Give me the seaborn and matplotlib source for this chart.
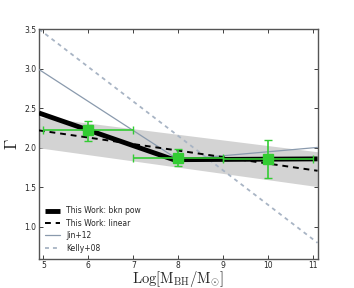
import numpy as np
import pandas as pd
import seaborn as sns
import matplotlib
matplotlib.use("Agg")
import matplotlib.pyplot as plt

# model lines (x in log M_BH)
bkn_x = [4.9, 7.9, 11.1]
bkn_y = [2.44, 1.85, 1.86]
lin_x = [4.9, 11.1]
lin_y = [2.22, 1.71]
jin_x = [4.9, 8.0, 11.1]
jin_y = [2.99, 1.85, 2.005]
kelly_x = [4.9, 11.1]
kelly_y = [3.50, 0.80]

# shaded uncertainty band of the linear fit
band_x = [4.9, 11.1]
band_lo = [2.00, 1.51]
band_hi = [2.39, 1.95]

# binned data points
pt_x = [6, 8, 10]
pt_y = [2.22, 1.875, 1.86]
pt_xerr = [1, 1, 1]
pt_yerr_lo = [0.13, 0.10, 0.24]
pt_yerr_hi = [0.125, 0.11, 0.235]

sns.set_style("ticks")
plt.rcParams["mathtext.fontset"] = "cm"
plt.rcParams["font.family"] = ["DejaVu Sans"]

fig = plt.figure(figsize=(3.54, 2.88), dpi=100)
ax = fig.add_axes([0.110, 0.102, 0.787, 0.797])

ax.fill_between(band_x, band_lo, band_hi, color="#d3d3d3", lw=0, zorder=1)

lines = pd.DataFrame({
    "x": bkn_x + lin_x + jin_x + kelly_x,
    "y": bkn_y + lin_y + jin_y + kelly_y,
    "model": (["This Work: bkn pow"] * len(bkn_x) + ["This Work: linear"] * len(lin_x)
              + ["Jin+12"] * len(jin_x) + ["Kelly+08"] * len(kelly_x)),
})
sns.lineplot(data=lines[lines.model == "Kelly+08"], x="x", y="y", ax=ax, color="#a8b4c4",
             lw=1.3, ls=(0, (2.2, 2.2)), label="Kelly+08", zorder=2, sort=False)
sns.lineplot(data=lines[lines.model == "Jin+12"], x="x", y="y", ax=ax, color="#8a9aad",
             lw=0.9, label="Jin+12", zorder=3, sort=False)
sns.lineplot(data=lines[lines.model == "This Work: linear"], x="x", y="y", ax=ax, color="black",
             lw=1.4, ls=(0, (3, 2.5)), label="This Work: linear", zorder=4, sort=False)
sns.lineplot(data=lines[lines.model == "This Work: bkn pow"], x="x", y="y", ax=ax, color="black",
             lw=3.5, label="This Work: bkn pow", zorder=5, sort=False,
             solid_capstyle="butt")

ax.errorbar(pt_x, pt_y, xerr=pt_xerr, yerr=[pt_yerr_lo, pt_yerr_hi], fmt="s",
            color="#33cc33", ms=7, elinewidth=1.2, capsize=3, capthick=1, zorder=6)

ax.set_xlim(4.9, 11.1)
ax.set_ylim(0.6, 3.5)
ax.set_xticks([5, 6, 7, 8, 9, 10, 11])
ax.set_yticks([1.0, 1.5, 2.0, 2.5, 3.0, 3.5])
ax.tick_params(direction="in", top=True, right=True, labelsize=5.5, length=3, width=0.6, pad=2,
               color="#222222")
for s in ax.spines.values():
    s.set_color("#555555")
    s.set_linewidth(1.0)

ax.set_xlabel(r"$\mathrm{Log[M_{BH}/M_{\odot}]}$", fontsize=10.5, labelpad=-1)
ax.set_ylabel(r"$\Gamma$", fontsize=12, labelpad=2)

h, l = ax.get_legend_handles_labels()
order = [l.index(n) for n in ["This Work: bkn pow", "This Work: linear", "Jin+12", "Kelly+08"]]
leg = ax.legend([h[i] for i in order], [l[i] for i in order], loc="lower left", frameon=False,
                fontsize=5.5, handlelength=2.0, handletextpad=0.8, labelspacing=0.45,
                borderaxespad=0.4)
leg.get_lines()[0].set_solid_capstyle("butt")

fig.savefig("out.png", dpi=100)
